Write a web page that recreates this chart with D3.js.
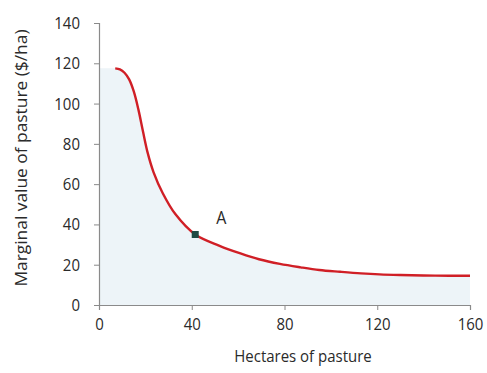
<!DOCTYPE html>
<html><head><meta charset="utf-8">
<script src="https://cdn.jsdelivr.net/npm/d3@7"></script>
<style>body{margin:0;background:#fff}svg{display:block}text{font-family:"Open Sans","Noto Sans",sans-serif;fill:#2a2a2a}</style>
</head><body><div id="chart"></div>
<script>
const hectares = [7, 9, 11, 13, 15, 17, 19, 21, 23.5, 27.5, 33, 41.5, 52, 61, 69, 78, 87, 95, 104, 113, 121, 130, 145, 160];
const marginalValue = [117.5, 117, 115.3, 112, 106, 97, 86, 75.5, 66, 55.5, 45, 35, 29.4, 25.6, 22.7, 20.4, 18.7, 17.4, 16.5, 15.7, 15.2, 14.9, 14.6, 14.5];
const xTicks = [0, 40, 80, 120, 160];
const yTicks = [0, 20, 40, 60, 80, 100, 120, 140];
const pointA = {x: 41.5, y: 35, label: "A"};
const xTitle = "Hectares of pasture";
const yTitle = "Marginal value of pasture ($/ha)";

const W = 487, H = 373;
const svg = d3.select("#chart").append("svg").attr("width", W).attr("height", H);
const x = d3.scaleLinear().domain([0, 160]).range([99, 470]);
const y = d3.scaleLinear().domain([0, 140]).range([305, 23]);
const data = hectares.map((h, i) => ({x: h, y: marginalValue[i]}));
const curve = d3.curveCatmullRom.alpha(0.5);

// shaded area under the curve (extends to the axis)
const areaData = [{x: 0, y: marginalValue[0]}].concat(data);
svg.append("path").datum(areaData)
  .attr("fill", "#edf4f8")
  .attr("d", d3.area().x(d => x(d.x)).y0(y(0)).y1(d => y(d.y)).curve(curve));

// axes
const yAxis = svg.append("g").attr("transform", `translate(${x(0)},0)`)
  .call(d3.axisLeft(y).tickValues(yTicks).tickSize(5).tickPadding(14));
const xAxis = svg.append("g").attr("transform", `translate(0,${y(0)})`)
  .call(d3.axisBottom(x).tickValues(xTicks).tickSize(5).tickPadding(7));
[xAxis, yAxis].forEach(g => {
  g.select(".domain").attr("stroke", "#8a8a8a").attr("stroke-width", 1.2);
  g.selectAll(".tick line").attr("stroke", "#8a8a8a");
  g.selectAll(".tick text").attr("font-size", 15).attr("fill", "#2a2a2a")
    .attr("font-family", '"Open Sans","Noto Sans",sans-serif');
});
yAxis.selectAll(".tick text").attr("y", 0).attr("dy", 0)
  .attr("transform", "translate(0,5.5) scale(1,1.12)");
xAxis.selectAll(".tick text").attr("y", 0).attr("dy", 0)
  .attr("transform", "translate(0,25) scale(1,1.12)");

// curve
svg.append("path").datum(data)
  .attr("fill", "none").attr("stroke", "#d01f26").attr("stroke-width", 2.4)
  .attr("d", d3.line().x(d => x(d.x)).y(d => y(d.y)).curve(curve));

// point A
svg.append("rect")
  .attr("x", x(pointA.x) - 3.5).attr("y", y(pointA.y) - 3.5)
  .attr("width", 7).attr("height", 7).attr("fill", "#1f4a44");
svg.append("text")
  .attr("transform", `translate(${x(pointA.x) + 26},${y(pointA.y) - 11}) scale(1,1.12)`)
  .attr("text-anchor", "middle").attr("font-size", 16).text(pointA.label);

// titles
svg.append("text").attr("transform", "translate(303,362) scale(1,1.12)")
  .attr("text-anchor", "middle").attr("font-size", 15).text(xTitle);
svg.append("text").attr("transform", "translate(27,158) scale(1,1.12) rotate(-90)")
  .attr("text-anchor", "middle").attr("font-size", 15.5).text(yTitle);
</script></body></html>
